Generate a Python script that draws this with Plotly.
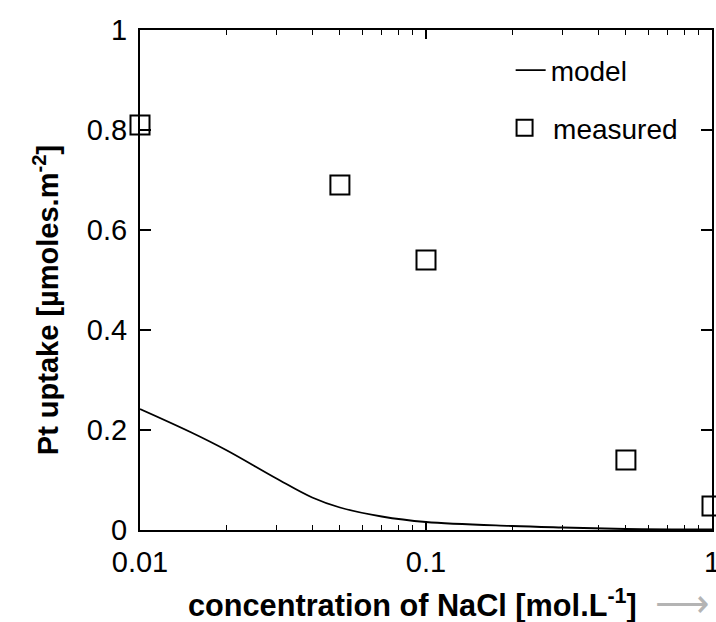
import plotly.graph_objects as go

# model curve
model_x = [0.01, 0.015, 0.02, 0.03, 0.04, 0.05, 0.07, 0.1, 0.2, 0.3, 0.5, 1.0]
model_y = [0.242, 0.196, 0.16, 0.103, 0.065, 0.045, 0.027, 0.016, 0.008, 0.005, 0.002, 0.001]

# measured points
meas_x = [0.01, 0.05, 0.1, 0.5, 1.0]
meas_y = [0.81, 0.69, 0.54, 0.14, 0.048]

y_ticks = [0, 0.2, 0.4, 0.6, 0.8, 1]
y_ticktext = ["0", "0.2", "0.4", "0.6", "0.8", "1"]
x_ticks = [0.01, 0.1, 1]
x_ticktext = ["0.01", "0.1", "1"]

FONT = "Liberation Sans, Arial, sans-serif"

fig = go.Figure()
fig.add_trace(go.Scatter(
    x=model_x, y=model_y, mode="lines", name="model",
    line=dict(color="black", width=1.8, shape="spline"),
    legend="legend", cliponaxis=False,
))
fig.add_trace(go.Scatter(
    x=meas_x, y=meas_y, mode="markers", name="measured",
    marker=dict(symbol="square-open", size=19, color="black", line=dict(width=2, color="black")),
    legend="legend2", cliponaxis=False,
))

fig.update_layout(
    width=716, height=622,
    margin=dict(l=140, r=4, t=30, b=92, autoexpand=False),
    paper_bgcolor="white", plot_bgcolor="white",
    font=dict(family=FONT, color="black", size=28),
    showlegend=True,
    legend=dict(x=0.648, y=0.969, xanchor="left", yanchor="top",
                bgcolor="rgba(0,0,0,0)", font=dict(size=28, family=FONT)),
    legend2=dict(x=0.6225, y=0.854, xanchor="left", yanchor="top", itemwidth=47,
                 bgcolor="rgba(0,0,0,0)", font=dict(size=28, family=FONT)),
    xaxis=dict(
        type="log", range=[-2, 0], automargin=False,
        tickvals=x_ticks, ticktext=x_ticktext,
        ticks="inside", ticklen=9, tickwidth=1.5, tickcolor="black",
        minor=dict(ticks="inside", ticklen=5, tickwidth=1.2, tickcolor="black", dtick="D1", showgrid=False),
        showline=True, linecolor="black", linewidth=2, mirror="ticks",
        showgrid=False, zeroline=False,
        tickfont=dict(size=29, family=FONT),
        ticklabelstandoff=5, ticklabeloverflow="allow",
    ),
    yaxis=dict(
        range=[0, 1], automargin=False,
        tickvals=y_ticks, ticktext=y_ticktext,
        ticks="inside", ticklen=11, tickwidth=1.5, tickcolor="black",
        showline=True, linecolor="black", linewidth=2, mirror="ticks",
        showgrid=False, zeroline=False,
        tickfont=dict(size=29, family=FONT),
        ticklabelstandoff=5, ticklabeloverflow="allow",
    ),
    annotations=[
        dict(text="<b>concentration of NaCl [mol.L<sup>-1</sup>]</b>",
             xref="paper", yref="paper", x=0.477, y=-0.146,
             xanchor="center", yanchor="middle", showarrow=False,
             font=dict(size=30.7, family=FONT, color="black")),
        dict(text="⟶",
             xref="paper", yref="paper", x=0.948, y=-0.146,
             xanchor="center", yanchor="middle", showarrow=False,
             font=dict(size=38, family="DejaVu Sans", color="#b4b4b4", weight=200)),
        dict(text="<b>Pt uptake [µmoles.m<sup>-2</sup>]</b>",
             xref="paper", yref="paper", x=-0.164, y=0.46, textangle=-90,
             xanchor="center", yanchor="middle", showarrow=False,
             font=dict(size=29, family=FONT, color="black")),
    ],
)

fig.write_html("out.html")
